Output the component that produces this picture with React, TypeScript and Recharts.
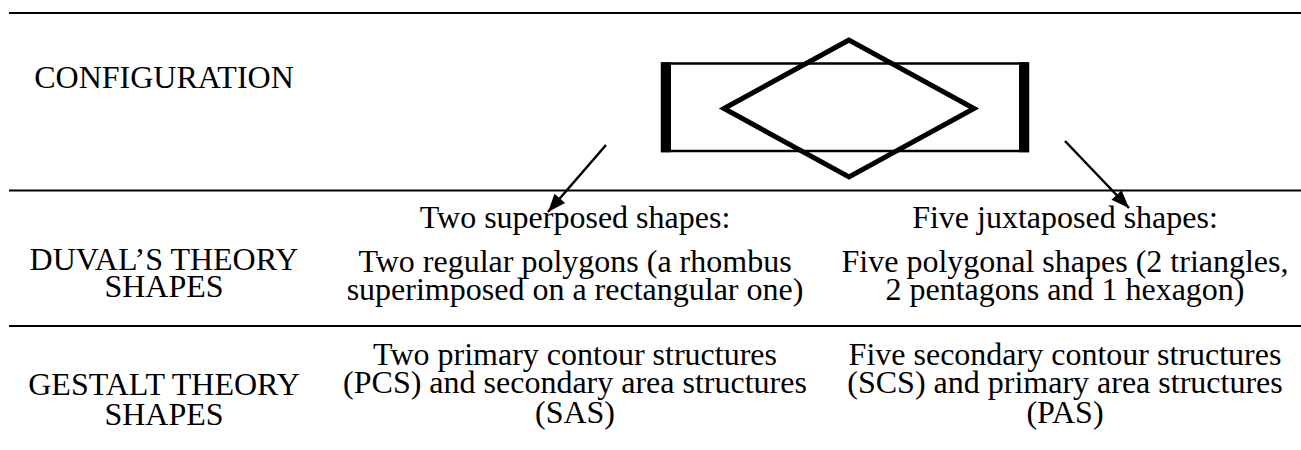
import {
  ComposedChart,
  XAxis,
  YAxis,
  Line,
  Scatter,
  ReferenceLine,
  Customized,
} from 'recharts'

// configuration drawing, in picture units (x to the right, y downwards)
const rectOutline = [
  { x: 662, y: 63.5 },
  { x: 1028, y: 63.5 },
  { x: 1028, y: 151 },
  { x: 662, y: 151 },
  { x: 662, y: 63.5 },
  { x: 1028, y: 63.5 },
]
const rectLeftSide = [
  { x: 666, y: 62.3 },
  { x: 666, y: 152.3 },
]
const rectRightSide = [
  { x: 1024, y: 62.3 },
  { x: 1024, y: 152.3 },
]
const rhombus = [
  { x: 724, y: 108.5 },
  { x: 849, y: 40 },
  { x: 974, y: 108.5 },
  { x: 849, y: 177 },
  { x: 724, y: 108.5 },
  { x: 849, y: 40 },
]
const leftArrow = [
  { x: 606, y: 145 },
  { x: 548, y: 212 },
]
const rightArrow = [
  { x: 1065, y: 141 },
  { x: 1129, y: 208 },
]
const arrowTips = [
  { x: 548, y: 212, fromX: 606, fromY: 145 },
  { x: 1129, y: 208, fromX: 1065, fromY: 141 },
]
const tableRules = [13, 190.5, 326]

// table text
const rowLabels = [
  ['CONFIGURATION'],
  ['DUVAL’S THEORY', 'SHAPES'],
  ['GESTALT THEORY', 'SHAPES'],
]
const duvalHeadings = ['Two superposed shapes:', 'Five juxtaposed shapes:']
const duvalLines = [
  ['Two regular polygons (a rhombus', 'superimposed on a rectangular one)'],
  ['Five polygonal shapes (2 triangles,', '2 pentagons and 1 hexagon)'],
]
const gestaltLines = [
  ['Two primary contour structures', '(PCS) and secondary area structures', '(SAS)'],
  ['Five secondary contour structures', '(SCS) and primary area structures', '(PAS)'],
]

const W = 1301
const H = 450
const colCenters = [164, 575, 1065]
const labelBaselines = [[88], [270, 297], [395, 425]]
const headingBaseline = 228
const duvalBaselines = [272, 300]
const gestaltBaselines = [365, 393, 423]
const textStyle = {
  fontFamily: '"Liberation Serif", "Times New Roman", serif',
  fontSize: 32,
  fill: '#000',
}

const ArrowHead = (props: any) => {
  const { cx, cy, payload } = props
  const ang = Math.atan2(payload.y - payload.fromY, payload.x - payload.fromX)
  const len = 18
  const half = 7
  const bx = cx - len * Math.cos(ang)
  const by = cy - len * Math.sin(ang)
  const px = -Math.sin(ang) * half
  const py = Math.cos(ang) * half
  return (
    <polygon
      points={`${cx},${cy} ${bx + px},${by + py} ${bx - px},${by - py}`}
      fill='#000'
    />
  )
}

const Txt = ({ x, y, t }: { x: number; y: number; t: string }) => (
  <text x={x} y={y} textAnchor='middle' style={textStyle}>
    {t}
  </text>
)

const TableText = () => (
  <g>
    {rowLabels.map((lines, r) =>
      lines.map((t, i) => (
        <Txt key={`l${r}${i}`} x={colCenters[0]} y={labelBaselines[r][i]} t={t} />
      ))
    )}
    {duvalHeadings.map((t, c) => (
      <Txt key={`h${c}`} x={colCenters[c + 1]} y={headingBaseline} t={t} />
    ))}
    {duvalLines.map((lines, c) =>
      lines.map((t, i) => (
        <Txt key={`d${c}${i}`} x={colCenters[c + 1]} y={duvalBaselines[i]} t={t} />
      ))
    )}
    {gestaltLines.map((lines, c) =>
      lines.map((t, i) => (
        <Txt key={`g${c}${i}`} x={colCenters[c + 1]} y={gestaltBaselines[i]} t={t} />
      ))
    )}
  </g>
)

const App = () => {
  return (
    <div style={{ position: 'absolute', left: 0, top: 0, background: '#fff' }}>
      <ComposedChart
        width={W}
        height={H}
        margin={{ top: 0, right: 0, bottom: 0, left: 0 }}
      >
        <XAxis type='number' dataKey='x' domain={[0, W]} allowDataOverflow hide />
        <YAxis
          type='number'
          dataKey='y'
          domain={[0, H]}
          allowDataOverflow
          reversed
          hide
        />
        {tableRules.map((y) => (
          <ReferenceLine
            key={y}
            segment={[
              { x: 9, y },
              { x: W, y },
            ]}
            stroke='#000'
            strokeWidth={2}
          />
        ))}
        <Line
          data={rectOutline}
          dataKey='y'
          type='linear'
          stroke='#000'
          strokeWidth={2.5}
          dot={false}
          activeDot={false}
          isAnimationActive={false}
        />
        <Line
          data={rectLeftSide}
          dataKey='y'
          type='linear'
          stroke='#000'
          strokeWidth={10}
          dot={false}
          activeDot={false}
          isAnimationActive={false}
        />
        <Line
          data={rectRightSide}
          dataKey='y'
          type='linear'
          stroke='#000'
          strokeWidth={10}
          dot={false}
          activeDot={false}
          isAnimationActive={false}
        />
        <Line
          data={rhombus}
          dataKey='y'
          type='linear'
          stroke='#000'
          strokeWidth={5}
          strokeLinejoin='miter'
          dot={false}
          activeDot={false}
          isAnimationActive={false}
        />
        <Line
          data={leftArrow}
          dataKey='y'
          type='linear'
          stroke='#000'
          strokeWidth={2.5}
          dot={false}
          activeDot={false}
          isAnimationActive={false}
        />
        <Line
          data={rightArrow}
          dataKey='y'
          type='linear'
          stroke='#000'
          strokeWidth={2.5}
          dot={false}
          activeDot={false}
          isAnimationActive={false}
        />
        <Scatter
          data={arrowTips}
          dataKey='y'
          shape={ArrowHead}
          isAnimationActive={false}
        />
        <Customized component={TableText} />
      </ComposedChart>
    </div>
  )
}

export default App
